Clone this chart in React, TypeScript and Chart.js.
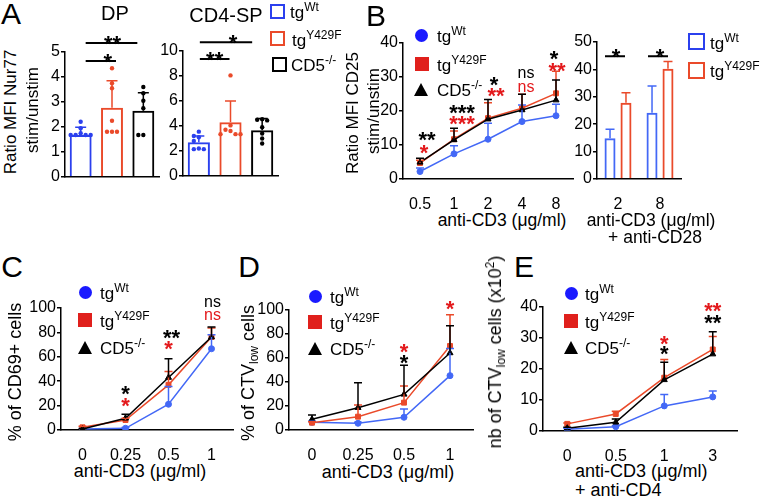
import React, { useEffect, useRef } from "react";
import { Chart, registerables } from "chart.js";
Chart.register(...registerables);

const FONT = "'Liberation Sans', Arial, Helvetica, sans-serif";
const BLUE = "#2b40ee";
const BLUE_L = "#4368f6";
const RED = "#ea4a2a";
const RED_S = "#e3191c";
const BLACK = "#000000";
const LEG_BLUE = "#1a1aff";
const LEG_RED = "#e0201c";

// ---------- Panel A data ----------
const groupsA = ["tgWt", "tgY429F", "CD5-/-"];
const dpMean = [1.68, 2.77, 2.65];
const dpSD = [0.31, 1.08, 0.72];
const dpWt = [2.21, 1.95, 1.75, 1.68, 1.68, 1.68, 1.68];
const dpY = [4.35, 3.75, 3.55, 2.25, 1.81, 1.81, 1.81];
const dpKO = [3.6, 3.35, 3.05, 2.75, 1.68, 1.68];
const spMean = [2.7, 4.3, 3.66];
const spSD = [0.5, 1.7, 0.94];
const spWt = [3.55, 3.2, 3.1, 2.8, 2.2, 2.15, 2.15];
const spY = [8.05, 4.05, 3.7, 3.6, 3.35, 3.35, 3.35];
const spKO = [4.55, 4.5, 4.45, 3.9, 3.4, 3.0, 2.6];

// ---------- Panel B data ----------
const doseB = ["0.5", "1", "2", "4", "8"];
const bWt = [2.2, 7.4, 11.7, 16.9, 18.6];
const bWtSD = [1.0, 2.4, 4.7, 4.9, 3.4];
const bY = [4.7, 11.7, 17.9, 20.8, 25.2];
const bYSD = [0.8, 2.4, 4.5, 4.1, 6.5];
const bKO = [4.9, 11.5, 17.6, 20.3, 23.2];
const bKOSD = [1.2, 3.4, 5.8, 4.6, 5.9];
const doseB28 = ["2", "8"];
const b28Wt = [14.9, 24.2];
const b28WtSD = [3.3, 9.7];
const b28Y = [27.8, 40.2];
const b28YSD = [3.7, 2.7];

// ---------- Panel C data ----------
const doseC = ["0", "0.25", "0.5", "1"];
const cWt = [0.8, 1.4, 21.1, 66.6];
const cWtSD = [0, 0.6, 14.5, 11.4];
const cY = [2.2, 8.2, 37, 76.2];
const cYSD = [0.8, 1.5, 11, 7.4];
const cKO = [0.8, 9.6, 43, 76.2];
const cKOSD = [0.4, 3.3, 15.4, 8.2];

// ---------- Panel D data ----------
const doseD = ["0", "0.25", "0.5", "1"];
const dWt = [6.4, 5.6, 10.6, 45.3];
const dWtSD = [0.8, 0.8, 6.9, 22.7];
const dY = [6.1, 11.1, 22.8, 70];
const dYSD = [0.8, 9.7, 13.9, 26.1];
const dKO = [8.9, 18.6, 29.7, 64.2];
const dKOSD = [3.6, 20.8, 24.2, 22.7];

// ---------- Panel E data ----------
const doseE = ["0", "0.5", "1", "3"];
const eWt = [0.6, 1.4, 8.1, 11.0];
const eWtSD = [0.3, 0.3, 3.7, 1.9];
const eY = [2.3, 5.5, 17.2, 26.3];
const eYSD = [0.3, 0.9, 5.9, 4.2];
const eKO = [0.9, 2.8, 16.5, 24.8];
const eKOSD = [0.3, 1.1, 5.7, 7.2];

// ---------- significance annotations ----------
const sigDP = [
  { from: 0, to: 1, y: 4.64, text: "*", dx1: 5, dx2: 4, tdx: 7 },
  { from: 0, to: 2, y: 5.36, text: "**", dx1: 5, dx2: -6, tdx: 1 },
];
const sigSP = [
  { from: 0, to: 1, y: 9.36, text: "**", dx1: 1, dx2: -1, tdx: 0 },
  { from: 0, to: 2, y: 10.7, text: "*", dx1: 1, dx2: -10, tdx: 7 },
];
const sigB28 = [
  { from: 0, to: 0, y: 44.8, text: "*", dx1: -13, dx2: 7, tdx: 1 },
  { from: 1, to: 1, y: 44.8, text: "*", dx1: -12, dx2: 8, tdx: 2 },
];
const marksB = [
  { i: 0, text: "**", color: BLACK, y: 13.0, dx: 7 },
  { i: 0, text: "*", color: RED_S, y: 9.4, dx: 4 },
  { i: 1, text: "***", color: BLACK, y: 21.1, dx: 8 },
  { i: 1, text: "***", color: RED_S, y: 17.9, dx: 8 },
  { i: 2, text: "*", color: BLACK, y: 29.4, dx: 6 },
  { i: 2, text: "**", color: RED_S, y: 26.1, dx: 8 },
  { i: 3, text: "ns", color: BLACK, y: 31.1, dx: 4 },
  { i: 3, text: "ns", color: RED_S, y: 27.0, dx: 4 },
  { i: 4, text: "*", color: BLACK, y: 37.0, dx: -2 },
  { i: 4, text: "**", color: RED_S, y: 33.5, dx: 1 },
];
const marksC = [
  { i: 1, text: "*", color: BLACK, y: 33.7, dx: 0 },
  { i: 1, text: "*", color: RED_S, y: 23.8, dx: 0 },
  { i: 2, text: "**", color: BLACK, y: 79.7, dx: 3 },
  { i: 2, text: "*", color: RED_S, y: 70.7, dx: 0 },
  { i: 3, text: "ns", color: BLACK, y: 104.4, dx: 1 },
  { i: 3, text: "ns", color: RED_S, y: 93.7, dx: 1 },
];
const marksD = [
  { i: 2, text: "*", color: RED_S, y: 69.2, dx: 0 },
  { i: 2, text: "*", color: BLACK, y: 60.8, dx: 0 },
  { i: 3, text: "*", color: RED_S, y: 105.8, dx: 0 },
];
const marksE = [
  { i: 2, text: "*", color: RED_S, y: 30.0, dx: 0 },
  { i: 2, text: "*", color: BLACK, y: 26.5, dx: 0 },
  { i: 3, text: "**", color: RED_S, y: 40.6, dx: 0 },
  { i: 3, text: "**", color: BLACK, y: 36.5, dx: 0 },
];

// ---------- drawing helpers ----------
function drawMark(ctx: any, text: string, x: number, y: number, color: string) {
  ctx.save();
  ctx.fillStyle = color;
  ctx.textAlign = "center";
  if (text === "ns") {
    ctx.font = `16px ${FONT}`;
    ctx.textBaseline = "middle";
    ctx.fillText(text, x, y);
  } else {
    ctx.font = `bold 22px ${FONT}`;
    ctx.textBaseline = "alphabetic";
    ctx.fillText(text, x, y + 12.5);
  }
  ctx.restore();
}

const errorBarPlugin = (cap: number) => ({
  id: "errorBars",
  afterDatasetsDraw(chart: any) {
    const ctx = chart.ctx;
    const ys = chart.scales.y;
    const dss = chart.data.datasets;
    const idx = dss
      .map((_: any, i: number) => i)
      .sort((a: number, b: number) => (dss[b].drawRank ?? 0) - (dss[a].drawRank ?? 0));
    ctx.save();
    idx.forEach((di: number) => {
      const ds = dss[di];
      if (!ds.sd) return;
      const meta = chart.getDatasetMeta(di);
      meta.data.forEach((el: any, i: number) => {
        const e = ds.sd[i];
        if (!e) return;
        const color = Array.isArray(ds.borderColor) ? ds.borderColor[i] : ds.borderColor;
        const x = el.x;
        const y0 = ys.getPixelForValue(ds.data[i]);
        const y1 = ys.getPixelForValue(ds.data[i] + e);
        ctx.strokeStyle = color;
        ctx.lineWidth = 1.5;
        ctx.beginPath();
        ctx.moveTo(x, y0);
        ctx.lineTo(x, y1);
        ctx.moveTo(x - cap / 2, y1);
        ctx.lineTo(x + cap / 2, y1);
        ctx.stroke();
      });
    });
    ctx.restore();
  },
});

const dotsPlugin = (groups: number[][], colors: string[]) => ({
  id: "dots",
  afterDatasetsDraw(chart: any) {
    const ctx = chart.ctx;
    const ys = chart.scales.y;
    const xs = chart.scales.x;
    ctx.save();
    groups.forEach((vals, gi) => {
      const cx = xs.getPixelForValue(gi);
      const placed: { x: number; y: number }[] = [];
      const sorted = [...vals].sort((a, b) => b - a);
      sorted.forEach((v) => {
        const y = ys.getPixelForValue(v);
        const cands = [0, -5, 5, -10, 10, -15, 15];
        let px = cx;
        for (const c of cands) {
          const x = cx + c;
          if (placed.every((p) => Math.hypot(p.x - x, p.y - y) >= 4.8)) {
            px = x;
            break;
          }
        }
        placed.push({ x: px, y });
        ctx.fillStyle = colors[gi];
        ctx.beginPath();
        ctx.arc(px, y, 2.2, 0, Math.PI * 2);
        ctx.fill();
      });
    });
    ctx.restore();
  },
});

const sigLinesPlugin = (lines: any[]) => ({
  id: "sigLines",
  afterDraw(chart: any) {
    const ctx = chart.ctx;
    const xs = chart.scales.x;
    const ys = chart.scales.y;
    lines.forEach((l) => {
      const x1 = xs.getPixelForValue(l.from) + l.dx1;
      const x2 = xs.getPixelForValue(l.to) + l.dx2;
      const y = ys.getPixelForValue(l.y);
      ctx.save();
      ctx.strokeStyle = "#000";
      ctx.lineWidth = 2;
      ctx.beginPath();
      ctx.moveTo(x1, y);
      ctx.lineTo(x2, y);
      ctx.stroke();
      ctx.restore();
      drawMark(ctx, l.text, (x1 + x2) / 2 + (l.tdx || 0), y - 5, "#000");
    });
  },
});

const marksPlugin = (marks: any[]) => ({
  id: "marks",
  afterDraw(chart: any) {
    const xs = chart.scales.x;
    const ys = chart.scales.y;
    marks.forEach((m) => {
      drawMark(chart.ctx, m.text, xs.getPixelForValue(m.i) + (m.dx || 0), ys.getPixelForValue(m.y), m.color);
    });
  },
});

// ---------- chart option builders ----------
type Box = { l: number; t: number; r: number; b: number };
const tickFont = { family: FONT, size: 16 };

function yAxis(min: number, max: number, step: number, width: number) {
  return {
    type: "linear",
    min,
    max,
    ticks: { stepSize: step, color: "#000", font: tickFont, padding: 1 },
    grid: { display: true, drawOnChartArea: false, drawTicks: true, tickLength: 4, color: "#000", lineWidth: 1.5 },
    border: { display: true, color: "#000", width: 1.5 },
    afterFit: (s: any) => {
      s.width = width;
    },
  };
}
function xAxis(height: number, show = true) {
  return {
    type: "category",
    offset: true,
    ticks: { display: show, color: "#000", font: tickFont, padding: 8, maxRotation: 0, autoSkip: false },
    grid: { display: false },
    border: { display: true, color: "#000", width: 1.5 },
    afterFit: (s: any) => {
      s.height = height;
    },
  };
}
function baseOptions(m: Box, x: any, y: any) {
  return {
    responsive: false,
    maintainAspectRatio: false,
    animation: false,
    devicePixelRatio: 1,
    layout: { autoPadding: false, padding: { left: 0, top: m.t, right: m.r, bottom: 0 } },
    plugins: { legend: { display: false }, tooltip: { enabled: false }, title: { display: false } },
    scales: { x, y },
  };
}

function lineDatasets(wt: number[], wtSD: number[], y: number[], ySD: number[], ko: number[], koSD: number[]) {
  return [
    { label: "tgWt", data: wt, sd: wtSD, borderColor: BLUE_L, backgroundColor: BLUE_L, pointStyle: "circle", pointRadius: 3, order: 3, drawRank: 3 },
    { label: "tgY429F", data: y, sd: ySD, borderColor: RED, backgroundColor: RED, pointStyle: "rect", pointRadius: 3.5, order: 2, drawRank: 2 },
    { label: "CD5-/-", data: ko, sd: koSD, borderColor: BLACK, backgroundColor: BLACK, pointStyle: "triangle", pointRadius: 3.5, order: 1, drawRank: 1 },
  ].map((d) => ({ ...d, borderWidth: 1.5, pointBorderWidth: 1, tension: 0 }));
}

function lineConfig(labels: string[], ds: any[], m: Box, yMax: number, step: number, marks: any[]) {
  return {
    type: "line",
    data: { labels, datasets: ds },
    options: baseOptions(m, xAxis(m.b), yAxis(0, yMax, step, m.l)),
    plugins: [errorBarPlugin(8), marksPlugin(marks)],
  };
}

function barAConfig(mean: number[], sd: number[], dots: number[][], m: Box, yMax: number, step: number, sig: any[]) {
  const cols = [BLUE, RED, BLACK];
  return {
    type: "bar",
    data: {
      labels: groupsA,
      datasets: [
        {
          data: mean,
          sd,
          borderColor: cols,
          backgroundColor: "rgba(255,255,255,0)",
          borderWidth: 2,
          barPercentage: 0.7,
          categoryPercentage: 1,
        },
      ],
    },
    options: baseOptions(m, xAxis(m.b, false), yAxis(0, yMax, step, m.l)),
    plugins: [errorBarPlugin(11), dotsPlugin(dots, cols), sigLinesPlugin(sig)],
  };
}

function bar28Config(m: Box) {
  return {
    type: "bar",
    data: {
      labels: doseB28,
      datasets: [
        { label: "tgWt", data: b28Wt, sd: b28WtSD, borderColor: BLUE_L, backgroundColor: "rgba(255,255,255,0)", borderWidth: 2 },
        { label: "tgY429F", data: b28Y, sd: b28YSD, borderColor: RED, backgroundColor: "rgba(255,255,255,0)", borderWidth: 2 },
      ].map((d) => ({ ...d, categoryPercentage: 0.76, barPercentage: 0.69 })),
    },
    options: baseOptions(m, xAxis(m.b), yAxis(0, 50, 10, m.l)),
    plugins: [errorBarPlugin(9), sigLinesPlugin(sigB28)],
  };
}

function ChartBox({ area, m, make }: { area: Box; m: Box; make: (m: Box) => any }) {
  const ref = useRef<HTMLCanvasElement>(null);
  const w = area.r - area.l + m.l + m.r;
  const h = area.b - area.t + m.t + m.b;
  useEffect(() => {
    const c = new Chart(ref.current as HTMLCanvasElement, make(m));
    return () => c.destroy();
  }, []);
  return (
    <canvas
      ref={ref}
      width={w}
      height={h}
      style={{ position: "absolute", left: area.l - m.l, top: area.t - m.t, width: w, height: h }}
    />
  );
}

// ---------- HTML text helpers ----------
type TxtProps = { x: number; y: number; size?: number; rot?: boolean; left?: boolean; children: React.ReactNode };
const Txt = ({ x, y, size = 17, rot, left, children }: TxtProps) => (
  <div
    style={{
      position: "absolute",
      left: x,
      top: y,
      fontSize: size,
      lineHeight: 1,
      fontFamily: FONT,
      color: "#000",
      whiteSpace: "nowrap",
      transform: `translate(${left ? "0" : "-50%"}, -50%)${rot ? " rotate(-90deg)" : ""}`,
    }}
  >
    {children}
  </div>
);
const Sup = ({ children }: { children: React.ReactNode }) => (
  <span style={{ fontSize: 12, position: "relative", top: -7 }}>{children}</span>
);
const Sub = ({ children }: { children: React.ReactNode }) => (
  <span style={{ fontSize: 12, position: "relative", top: 4 }}>{children}</span>
);

const LabWt = () => (<>tg<Sup>Wt</Sup></>);
const LabY = () => (<>tg<Sup>Y429F</Sup></>);
const LabKO = () => (<>CD5<Sup>-/-</Sup></>);

function Marker({ kind, cx, cy, color }: { kind: string; cx: number; cy: number; color?: string }) {
  if (kind === "circle")
    return <div style={{ position: "absolute", left: cx - 6.5, top: cy - 6.5, width: 13, height: 13, borderRadius: "50%", background: LEG_BLUE }} />;
  if (kind === "square")
    return <div style={{ position: "absolute", left: cx - 7, top: cy - 7, width: 14, height: 14, background: LEG_RED }} />;
  if (kind === "triangle")
    return (
      <div
        style={{
          position: "absolute",
          left: cx - 7.5,
          top: cy - 6.5,
          width: 0,
          height: 0,
          borderLeft: "7.5px solid transparent",
          borderRight: "7.5px solid transparent",
          borderBottom: "13px solid #000",
        }}
      />
    );
  const s = kind === "bigbox" ? 17 : 15;
  return (
    <div
      style={{
        position: "absolute",
        left: cx - s / 2,
        top: cy - s / 2,
        width: s,
        height: s,
        border: `${kind === "bigbox" ? 2.5 : 2}px solid ${color}`,
        boxSizing: "border-box",
      }}
    />
  );
}

function SymLegend({ mx, tx, ys }: { mx: number; tx: number; ys: number[] }) {
  return (
    <>
      <Marker kind="circle" cx={mx} cy={ys[0]} />
      <Marker kind="square" cx={mx} cy={ys[1]} />
      <Marker kind="triangle" cx={mx} cy={ys[2]} />
      <Txt x={tx} y={ys[0] + 1} left><LabWt /></Txt>
      <Txt x={tx} y={ys[1] + 1} left><LabY /></Txt>
      <Txt x={tx} y={ys[2] + 1} left><LabKO /></Txt>
    </>
  );
}

const mA: Box = { l: 32, t: 32, r: 8, b: 14 };
const mB: Box = { l: 36, t: 22, r: 8, b: 30 };
const mC: Box = { l: 38, t: 24, r: 8, b: 30 };

export default function App() {
  return (
    <div style={{ position: "fixed", left: 0, top: 0, width: 762, height: 498, background: "#fff", overflow: "hidden", fontFamily: FONT }}>
      <ChartBox area={{ l: 65, t: 52, r: 159, b: 177 }} m={mA} make={(m) => barAConfig(dpMean, dpSD, [dpWt, dpY, dpKO], m, 5, 1, sigDP)} />
      <ChartBox area={{ l: 183, t: 51, r: 278, b: 176 }} m={mA} make={(m) => barAConfig(spMean, spSD, [spWt, spY, spKO], m, 10, 2, sigSP)} />
      <ChartBox area={{ l: 403, t: 43, r: 573, b: 179 }} m={mB} make={(m) => lineConfig(doseB, lineDatasets(bWt, bWtSD, bY, bYSD, bKO, bKOSD), m, 40, 10, marksB)} />
      <ChartBox area={{ l: 597, t: 42, r: 681, b: 179 }} m={mB} make={(m) => bar28Config(m)} />
      <ChartBox area={{ l: 61, t: 308, r: 233, b: 430 }} m={mC} make={(m) => lineConfig(doseC, lineDatasets(cWt, cWtSD, cY, cYSD, cKO, cKOSD), m, 100, 20, marksC)} />
      <ChartBox area={{ l: 289, t: 310, r: 473, b: 430 }} m={mC} make={(m) => lineConfig(doseD, lineDatasets(dWt, dWtSD, dY, dYSD, dKO, dKOSD), m, 100, 20, marksD)} />
      <ChartBox area={{ l: 543, t: 307, r: 737, b: 431 }} m={mC} make={(m) => lineConfig(doseE, lineDatasets(eWt, eWtSD, eY, eYSD, eKO, eKOSD), m, 40, 10, marksE)} />

      {/* panel letters */}
      <Txt x={11} y={14} size={30}>A</Txt>
      <Txt x={376} y={16} size={30}>B</Txt>
      <Txt x={12} y={267} size={30}>C</Txt>
      <Txt x={249} y={267} size={30}>D</Txt>
      <Txt x={524} y={267} size={30}>E</Txt>

      {/* panel A */}
      <Txt x={115} y={13} size={20}>DP</Txt>
      <Txt x={226} y={15} size={20}>CD4-SP</Txt>
      <Txt x={10} y={112} rot>Ratio MFI Nur77</Txt>
      <Txt x={32} y={110} rot>stim/unstim</Txt>
      <Marker kind="box" cx={277.5} cy={11} color={BLUE} />
      <Marker kind="box" cx={277.5} cy={38.5} color={RED} />
      <Marker kind="box" cx={279.5} cy={64.5} color={BLACK} />
      <Txt x={290} y={12} left><LabWt /></Txt>
      <Txt x={292} y={40} left><LabY /></Txt>
      <Txt x={291} y={65} left><LabKO /></Txt>

      {/* panel B */}
      <Txt x={352} y={113} rot>Ratio MFI CD25</Txt>
      <Txt x={373} y={111} rot>stim/unstim</Txt>
      <SymLegend mx={421.5} tx={437} ys={[35, 63.5, 89]} />
      <Txt x={502} y={221} size={17.5}>anti-CD3 (μg/ml)</Txt>
      <Txt x={651} y={221} size={17.5}>anti-CD3 (μg/ml)</Txt>
      <Txt x={655} y={238} size={17.5}>+ anti-CD28</Txt>
      <Marker kind="bigbox" cx={696} cy={41.5} color={BLUE} />
      <Marker kind="bigbox" cx={696} cy={70} color={RED} />
      <Txt x={710} y={43} left><LabWt /></Txt>
      <Txt x={710} y={71} left><LabY /></Txt>

      {/* panel C */}
      <Txt x={15} y={372} rot size={18}>% of CD69+ cells</Txt>
      <SymLegend mx={85} tx={100} ys={[292, 320, 347]} />
      <Txt x={140} y={471} size={18}>anti-CD3 (μg/ml)</Txt>

      {/* panel D */}
      <Txt x={248} y={373} rot size={18}>% of CTV<Sub>low</Sub> cells</Txt>
      <SymLegend mx={315} tx={330} ys={[296, 322, 348]} />
      <Txt x={388} y={472} size={18}>anti-CD3 (μg/ml)</Txt>

      {/* panel E */}
      <Txt x={495} y={352} rot size={18}>nb of CTV<Sub>low</Sub> cells (x10<Sup>2</Sup>)</Txt>
      <SymLegend mx={571} tx={585} ys={[293, 321, 347]} />
      <Txt x={575} y={471} left size={18}>anti-CD3 (μg/ml)</Txt>
      <Txt x={575} y={490} left size={18}>+ anti-CD4</Txt>
    </div>
  );
}
